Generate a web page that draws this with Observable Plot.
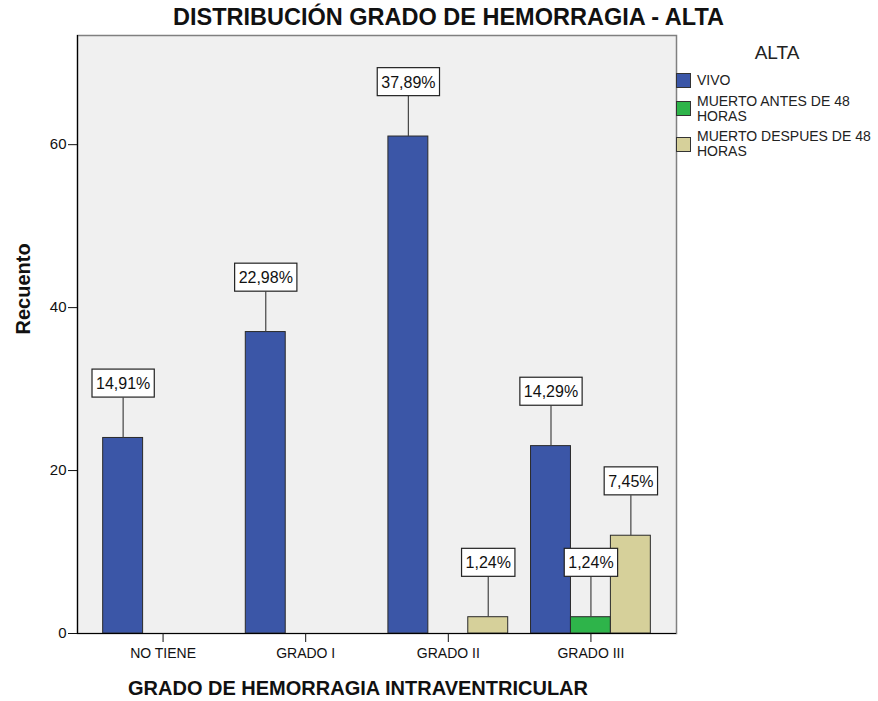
<!DOCTYPE html>
<html>
<head>
<meta charset="utf-8">
<script src="https://cdn.jsdelivr.net/npm/d3@7"></script>
<script src="https://cdn.jsdelivr.net/npm/@observablehq/plot@0.6"></script>
<style>
  body { margin: 0; background: #fff; font-family: "Liberation Sans", Arial, sans-serif; }
  #wrap { position: relative; width: 878px; height: 701px; }
  #legend { position: absolute; left: 676px; top: 0; width: 202px; color: #222; }
  #legend .ltitle { position: absolute; left: 0; width: 202px; top: 42.5px; text-align: center; font-size: 19px; line-height: 19px; }
  #legend .items { position: absolute; left: 0; top: 73px; }
  #legend .item { display: flex; align-items: center; margin-bottom: 5.5px; }
  #legend .sw { width: 15px; height: 15px; box-sizing: border-box; border: 1px solid #333; flex: none; }
  #legend .lt { margin-left: 6px; width: 180px; font-size: 14px; line-height: 15px; }
</style>
</head>
<body>
<div id="wrap"></div>
<script>
// ---- data ----
const title = "DISTRIBUCIÓN GRADO DE HEMORRAGIA - ALTA";
const xTitle = "GRADO DE HEMORRAGIA INTRAVENTRICULAR";
const yTitle = "Recuento";
const legendTitle = "ALTA";
const categories = ["NO TIENE", "GRADO I", "GRADO II", "GRADO III"];
const series = ["VIVO", "MUERTO ANTES DE 48 HORAS", "MUERTO DESPUES DE 48 HORAS"];
const colors = ["#3b56a7", "#2eb44a", "#d6d09a"];
const vivo = [24, 37, 61, 23];
const muertoAntes48 = [0, 0, 0, 2];
const muertoDespues48 = [0, 0, 2, 12];
const yTicks = [0, 20, 40, 60];

// ---- build table ----
const seriesValues = [vivo, muertoAntes48, muertoDespues48];
const total = d3.sum(seriesValues.flat());
const barW = 0.28; // width of one bar in category units
const rows = [];
categories.forEach((c, i) => {
  series.forEach((s, j) => {
    const v = seriesValues[j][i];
    if (v > 0) rows.push({cat: c, i, series: s, j, value: v,
      x1: i + (j - 1.5) * barW, x2: i + (j - 0.5) * barW,
      label: (v / total * 100).toFixed(2).replace(".", ",") + "%"});
  });
});

const W = 878, H = 701, mTop = 35, mBottom = 68, mLeft = 77, mRight = 202;
const yMax = 73.4;
const pxPerUnit = (H - mTop - mBottom) / yMax;
const leaderPx = 40;
const leader = leaderPx / pxPerUnit;

const plot = Plot.plot({
  width: W, height: H,
  marginTop: mTop, marginBottom: mBottom, marginLeft: mLeft, marginRight: mRight,
  style: {fontFamily: "'Liberation Sans', Arial, sans-serif", fontSize: "14px", background: "transparent", color: "#111"},
  x: {domain: [-0.6, 3.6]},
  y: {domain: [0, yMax]},
  color: {domain: series, range: colors},
  marks: [
    Plot.frame({fill: "#f0f0f0", stroke: "#808080", strokeWidth: 1.5}),
    Plot.rect(rows, {x1: "x1", x2: "x2", y1: d => 0, y2: "value", fill: "series", stroke: "#2a2a2a", strokeWidth: 1}),
    Plot.ruleX(rows, {x: d => (d.x1 + d.x2) / 2, y1: "value", y2: d => d.value + leader, stroke: "#444", strokeWidth: 1.2}),
    Plot.text(rows, {x: d => (d.x1 + d.x2) / 2, y: d => d.value + leader, dy: -14, text: "label",
      fontSize: 16, fill: "#111", lineAnchor: "middle"}),
    Plot.ruleY([0], {stroke: "#000", strokeWidth: 1.2}),
    Plot.ruleX([-0.6], {stroke: "#000", strokeWidth: 1.2}),
    Plot.axisY({ticks: yTicks, tickSize: 9, tickPadding: 2, fontSize: 15, label: null}),
    Plot.axisX({ticks: [0, 1, 2, 3], tickFormat: i => categories[i], tickSize: 9, tickPadding: 6, fontSize: 14, label: null}),
    Plot.text([yTitle], {frameAnchor: "left", dx: -54, rotate: -90, fontSize: 20, fontWeight: "bold", fill: "#111"}),
    Plot.text([xTitle], {frameAnchor: "bottom", dx: -19, dy: 55, fontSize: 20, fontWeight: "bold", fill: "#111", lineAnchor: "middle"}),
    Plot.text([title], {frameAnchor: "top", dx: 71.5, dy: -18, fontSize: 23.5, fontWeight: "bold", fill: "#111", lineAnchor: "middle"})
  ]
});

const wrap = document.getElementById("wrap");
wrap.appendChild(plot);

// white boxes behind the percentage labels
const labelSet = new Set(rows.map(d => d.label));
d3.select(plot).selectAll("text").each(function() {
  if (!labelSet.has(this.textContent)) return;
  const bb = this.getBBox();
  const cy = bb.y + bb.height / 2 - 0.5;
  const r = document.createElementNS("http://www.w3.org/2000/svg", "rect");
  r.setAttribute("x", bb.x - 4);
  r.setAttribute("y", cy - 14);
  r.setAttribute("width", bb.width + 8);
  r.setAttribute("height", 28);
  r.setAttribute("fill", "#fff");
  r.setAttribute("stroke", "#222");
  r.setAttribute("stroke-width", 1.2);
  const t = this.getAttribute("transform");
  if (t) r.setAttribute("transform", t);
  this.parentNode.insertBefore(r, this);
});

// legend
const legend = document.createElement("div");
legend.id = "legend";
const lt = document.createElement("div");
lt.className = "ltitle";
lt.textContent = legendTitle;
legend.appendChild(lt);
const items = document.createElement("div");
items.className = "items";
series.forEach((s, j) => {
  const it = document.createElement("div");
  it.className = "item";
  const sw = document.createElement("div");
  sw.className = "sw";
  sw.style.background = colors[j];
  const tx = document.createElement("div");
  tx.className = "lt";
  tx.textContent = s;
  it.appendChild(sw);
  it.appendChild(tx);
  items.appendChild(it);
});
legend.appendChild(items);
wrap.appendChild(legend);
</script>
</body>
</html>
